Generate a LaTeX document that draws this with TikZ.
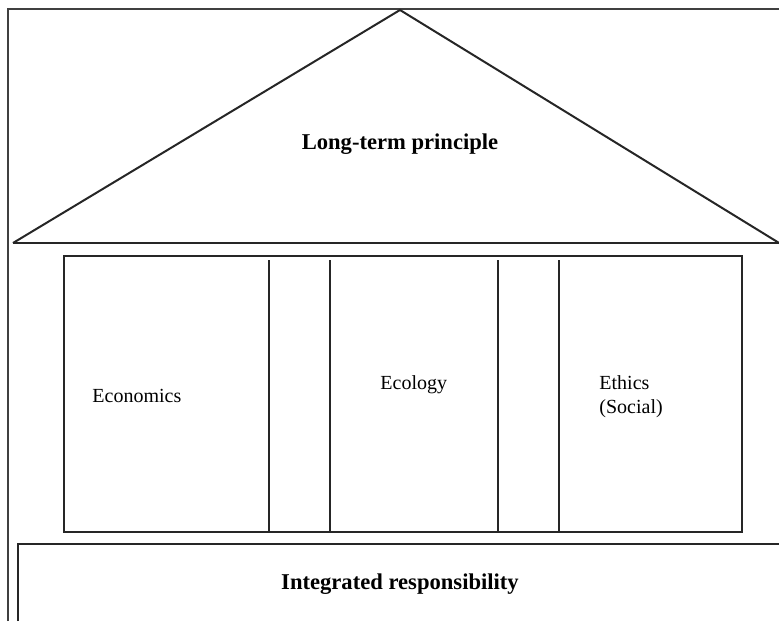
\documentclass[tikz,border=0pt]{standalone}
\usepackage{fontspec}
\setmainfont{Liberation Serif}
\usetikzlibrary{positioning}
\begin{document}
\begin{tikzpicture}[x=0.5pt, y=-0.5pt]
    \tikzset{
        myline/.style={draw=black!85, line width=1pt},
        myframe/.style={draw=black!75, line width=0.6pt},
        mytitle/.style={inner sep=0pt, font=\fontsize{11.3}{13.5}\selectfont\bfseries},
        mylabel/.style={inner sep=0pt, font=\fontsize{10}{12}\selectfont},
    }
    \useasboundingbox (0,0) rectangle (779,621);
    % outer frame
    \draw[myframe] (8,621) -- (8,9) -- (779,9);
    % roof
    \draw[myline] (13,243) -- (400,10) -- (784,246);
    \draw[myline] (13,243) -- (779,243);
    % pillars
    \draw[myline] (64,256) rectangle (742,532);
    \foreach \px in {269,330,498,559}
        \draw[myline] (\px,260) -- (\px,532);
    % foundation
    \draw[myline] (18,621) -- (18,544) -- (779,544);

    \node[mytitle, anchor=base] (roof) at (400,149) {Long-term principle};
    \node[mylabel, anchor=base west] (econ) at (92,402) {Economics};
    \node[mylabel, anchor=base west] (ecol) at (380,389) {Ecology};
    \node[mylabel, anchor=base west, align=left] (ethic) at (599,413) {Ethics\\(Social)};
    \node[mytitle, anchor=base] (found) at (400,589) {Integrated responsibility};
\end{tikzpicture}
\end{document}
